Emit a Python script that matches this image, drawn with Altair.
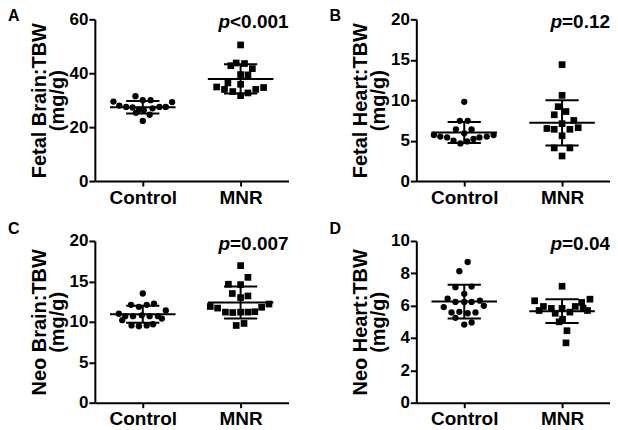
import altair as alt
import pandas as pd

FONT = "Liberation Sans"
GROUPS = ["Control", "MNR"]
LETTERS = ["A", "B", "C", "D"]
Y_TITLES = [["Fetal Brain:TBW", "(mg/g)"], ["Fetal Heart:TBW", "(mg/g)"],
            ["Neo Brain:TBW", "(mg/g)"], ["Neo Heart:TBW", "(mg/g)"]]
Y_MAX = [60, 20, 20, 10]
Y_TICKS = [[0, 20, 40, 60], [0, 5, 10, 15, 20], [0, 5, 10, 15, 20], [0, 2, 4, 6, 8, 10]]
P_PREFIX = ["p", "p", "p", "p"]
P_REST = ["<0.001", "=0.12", "=0.007", "=0.04"]

# Panel A – Fetal Brain:TBW
a_ctrl = [31.5, 30.0, 30.0, 29.5, 29.3, 28.0, 27.5, 27.3, 26.5, 26.3, 27.0, 27.5, 27.5, 25.3, 24.6, 22.3]
a_ctrl_jit = [-0.075, 0.0, 0.08, -0.30, 0.30, -0.24, -0.17, -0.105, -0.04, 0.01, 0.10, 0.17, 0.235, -0.07, 0.07, 0.0]
a_mnr = [50.5, 42.8, 43.8, 43.6, 41.7, 39.5, 39.4, 36.4, 35.9, 34.9, 34.0, 33.2, 31.7, 32.7, 34.0, 34.7]
a_mnr_jit = [0.0, -0.10, -0.045, 0.04, 0.12, 0.0, 0.075, -0.13, 0.0, -0.245, -0.165, -0.08, 0.0, 0.075, 0.155, 0.235]

# Panel B – Fetal Heart:TBW
b_ctrl = [9.8, 7.45, 7.45, 6.4, 6.4, 5.9, 5.7, 5.5, 5.4, 5.4, 5.5, 5.7, 5.0, 4.65, 4.9, 5.2]
b_ctrl_jit = [0.0, -0.045, 0.035, -0.085, 0.075, 0.0, -0.31, -0.245, -0.175, 0.155, 0.23, 0.30, -0.11, -0.04, 0.03, 0.095]
b_mnr = [14.4, 10.6, 9.2, 8.6, 8.2, 7.5, 7.1, 6.5, 6.4, 6.4, 6.6, 5.6, 4.1, 4.1, 3.1]
b_mnr_jit = [0.0, 0.0, -0.04, 0.04, -0.08, 0.12, 0.0, -0.155, -0.08, 0.08, 0.165, 0.0, -0.08, 0.08, 0.0]

# Panel C – Neo Brain:TBW
c_ctrl = [13.5, 12.1, 11.85, 12.1, 12.26, 11.0, 10.7, 10.7, 10.8, 10.7, 10.7, 11.4, 10.2, 10.4, 9.55, 9.45, 9.55, 9.7]
c_ctrl_jit = [0.0, -0.12, -0.04, 0.04, 0.115, -0.245, -0.18, -0.10, -0.01, 0.07, 0.155, 0.235, -0.21, 0.195, -0.115, -0.04, 0.04, 0.105]
c_mnr = [16.95, 15.5, 14.65, 14.6, 13.5, 13.0, 13.2, 11.9, 11.7, 11.8, 12.2, 11.2, 11.15, 11.2, 11.2, 11.25, 9.55, 9.8]
c_mnr_jit = [0.0, 0.075, -0.125, 0.0, -0.085, 0.0, 0.075, -0.31, -0.235, 0.215, 0.29, -0.155, -0.08, 0.0, 0.075, 0.145, -0.045, 0.035]

# Panel D – Neo Heart:TBW
d_ctrl = [8.7, 8.13, 7.14, 7.18, 6.73, 6.44, 6.23, 6.23, 6.23, 6.31, 5.91, 5.99, 5.58, 5.62, 5.53, 5.58, 5.25, 4.83, 4.96]
d_ctrl_jit = [0.035, -0.05, -0.09, 0.075, 0.0, -0.17, -0.09, 0.0, 0.075, 0.16, -0.21, 0.2, -0.13, -0.05, 0.035, 0.115, -0.09, 0.0, 0.075]
d_mnr = [7.2, 6.3, 6.4, 6.2, 5.7, 5.95, 5.83, 5.53, 5.83, 5.6, 5.95, 5.85, 5.7, 5.0, 5.16, 4.45, 3.7]
d_mnr_jit = [0.0, -0.28, 0.285, 0.2, -0.235, -0.19, -0.11, -0.07, 0.0, 0.08, 0.135, 0.215, 0.26, -0.03, 0.005, 0.05, 0.04]

# Mean and SD bars as drawn (Control, MNR)
MEANS = [[27.4, 37.9], [6.0, 7.2], [10.94, 12.4], [6.25, 5.66]]
SDS = [[2.3, 5.4], [1.3, 2.8], [1.06, 1.98], [1.05, 0.74]]

CTRL = [a_ctrl, b_ctrl, c_ctrl, d_ctrl]
CTRL_JIT = [a_ctrl_jit, b_ctrl_jit, c_ctrl_jit, d_ctrl_jit]
MNR = [a_mnr, b_mnr, c_mnr, d_mnr]
MNR_JIT = [a_mnr_jit, b_mnr_jit, c_mnr_jit, d_mnr_jit]

W, H = 194, 162
LETTER_X = -87
LETTER_Y = [2, 2, -7, -7]
CHAR_W = {"0": .556, "1": .556, "2": .556, "4": .556, "7": .556, ".": .278, "<": .584, "=": .584}
P_SIZE = 19
X_DOMAIN = [0.51, 2.49]
label_expr = "datum.value == 1 ? '%s' : '%s'" % (GROUPS[0], GROUPS[1])

AX = dict(domainColor="black", domainWidth=2, tickColor="black", tickWidth=2,
          labelFont=FONT, labelFontWeight="bold", labelColor="black",
          labelOverlap=False, grid=False)


def panel(i):
    pts = pd.DataFrame({
        "grp": [1] * len(CTRL[i]) + [2] * len(MNR[i]),
        "jit": CTRL_JIT[i] + MNR_JIT[i],
        "val": CTRL[i] + MNR[i],
    })
    stats = pd.DataFrame({"grp": [1, 2], "mean": MEANS[i], "sd": SDS[i]})

    xscale = alt.Scale(domain=X_DOMAIN, nice=False, zero=False)
    yscale = alt.Scale(domain=[0, Y_MAX[i]], nice=False)
    xaxis = alt.Axis(values=[1, 2], labelExpr=label_expr, title=None,
                     labelAngle=0, labelPadding=2, tickSize=5, labelFontSize=19, **AX)
    yaxis = alt.Axis(values=Y_TICKS[i], tickCount=len(Y_TICKS[i]), title=Y_TITLES[i],
                     labelPadding=1, tickSize=6, labelFontSize=17,
                     titleFont=FONT, titleFontSize=20, titleFontWeight="bold",
                     titleColor="black", titlePadding=2, titleLineHeight=18, **AX)

    base = alt.Chart(pts).transform_calculate(xpos="datum.grp + datum.jit")
    circles = base.transform_filter("datum.grp == 1").mark_point(
        shape="circle", filled=True, size=40, color="black", opacity=1
    ).encode(x=alt.X("xpos:Q", scale=xscale, axis=xaxis),
             y=alt.Y("val:Q", scale=yscale, axis=yaxis))
    squares = base.transform_filter("datum.grp == 2").mark_point(
        shape="square", filled=True, size=45, color="black", opacity=1
    ).encode(x="xpos:Q", y="val:Q")

    sb = alt.Chart(stats).transform_calculate(
        lo="datum.mean - datum.sd", hi="datum.mean + datum.sd",
        m1="datum.grp - 0.335", m2="datum.grp + 0.335",
        s1="datum.grp - 0.17", s2="datum.grp + 0.17",
    )
    mean_rule = sb.mark_rule(color="black", strokeWidth=2).encode(
        x="m1:Q", x2="m2:Q", y="mean:Q")
    hi_rule = sb.mark_rule(color="black", strokeWidth=2).encode(
        x="s1:Q", x2="s2:Q", y="hi:Q")
    lo_rule = sb.mark_rule(color="black", strokeWidth=2).encode(
        x="s1:Q", x2="s2:Q", y="lo:Q")
    vert = sb.mark_rule(color="black", strokeWidth=2).encode(
        x="grp:Q", y="lo:Q", y2="hi:Q")

    letter = alt.Chart(pd.DataFrame({"t": [LETTERS[i]]})).mark_text(
        align="left", baseline="alphabetic", fontSize=16, fontWeight="bold",
        font=FONT, color="black"
    ).encode(x=alt.value(LETTER_X), y=alt.value(LETTER_Y[i]), text="t:N")

    rest_w = sum(CHAR_W.get(ch, .556) for ch in P_REST[i]) * P_SIZE
    prest = alt.Chart(pd.DataFrame({"t": [P_REST[i]]})).mark_text(
        align="right", baseline="alphabetic", fontSize=P_SIZE, fontWeight="bold",
        font=FONT, color="black"
    ).encode(x=alt.value(W), y=alt.value(9), text="t:N")
    pp = alt.Chart(pd.DataFrame({"t": [P_PREFIX[i]]})).mark_text(
        align="right", baseline="alphabetic", fontSize=P_SIZE, fontWeight="bold",
        fontStyle="italic", font=FONT, color="black"
    ).encode(x=alt.value(W - rest_w), y=alt.value(9), text="t:N")

    return alt.layer(circles, squares, mean_rule, hi_rule, lo_rule, vert,
                     letter, prest, pp).properties(width=W, height=H)


row1 = alt.hconcat(panel(0), panel(1), spacing=41)
row2 = alt.hconcat(panel(2), panel(3), spacing=41)
chart = alt.vconcat(row1, row2, spacing=14).properties(
    padding={"left": 0, "top": 0, "right": 0, "bottom": 0},
    background="white",
).configure_view(stroke=None).configure_axis(labelOverlap=False)

chart.save("out.html", embed_options={"renderer": "svg", "actions": False})
